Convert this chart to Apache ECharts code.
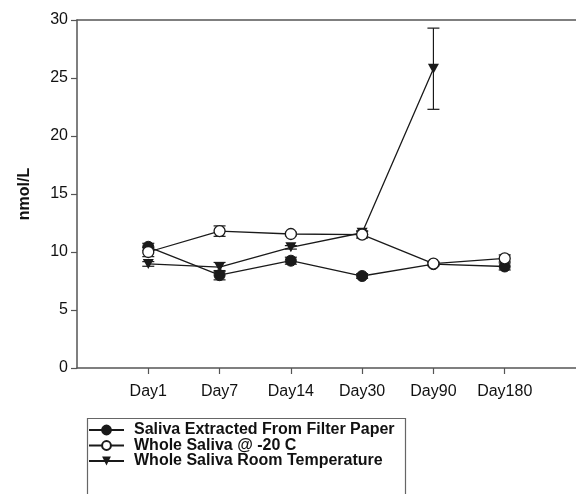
<!DOCTYPE html>
<html>
<head>
<meta charset="utf-8">
<script src="https://cdn.jsdelivr.net/npm/echarts@6/dist/echarts.min.js"></script>
<style>html,body{margin:0;padding:0;background:#fff}#c{width:576px;height:494px}</style>
</head>
<body>
<div id="c"></div>
<script>
var categories = ['Day1', 'Day7', 'Day14', 'Day30', 'Day90', 'Day180'];
var yTicks = [0, 5, 10, 15, 20, 25, 30];

var filterMean = [10.45, 8.0, 9.25, 7.93, 8.95, 8.75];
var filterErr  = [0.3, 0.4, 0.3, 0.2, 0.15, 0.3];

var frozenMean = [10.0, 11.8, 11.55, 11.5, 9.0, 9.45];
var frozenErr  = [0.4, 0.45, 0.15, 0.3, 0.15, 0.3];

var roomMean = [8.97, 8.7, 10.4, 11.66, 25.8, null];
var roomErr  = [0.2, 0.4, 0.15, 0.15, 3.5, null];

var names = ['Saliva Extracted From Filter Paper', 'Whole Saliva @ -20 C', 'Whole Saliva Room Temperature'];

function pts(arr) { return arr.map(function (v, i) { return [i + 1, v == null ? '-' : v]; }); }
function errPts(m, e) {
  var out = [];
  m.forEach(function (v, i) { if (v != null && e[i] != null) out.push([i + 1, v - e[i], v + e[i]]); });
  return out;
}

var INK = '#1a1a1a';
var triPath = 'path://M0,0 L10,0 L5,9 Z';
var FONT = 'Liberation Sans, Arial, sans-serif';

function errSeries(m, e) {
  return {
    type: 'custom',
    silent: true,
    z: 1,
    data: errPts(m, e),
    renderItem: function (params, api) {
      var x = api.value(0);
      var lo = api.coord([x, api.value(1)]);
      var hi = api.coord([x, api.value(2)]);
      var w = 6;
      var st = { stroke: INK, lineWidth: 1.2 };
      return {
        type: 'group',
        children: [
          { type: 'line', shape: { x1: lo[0], y1: lo[1], x2: hi[0], y2: hi[1] }, style: st },
          { type: 'line', shape: { x1: lo[0] - w, y1: lo[1], x2: lo[0] + w, y2: lo[1] }, style: st },
          { type: 'line', shape: { x1: hi[0] - w, y1: hi[1], x2: hi[0] + w, y2: hi[1] }, style: st }
        ]
      };
    }
  };
}

var chart = echarts.init(document.getElementById('c'));
var labelFont = { fontFamily: FONT, fontSize: 16, color: '#111' };

chart.setOption({
  animation: false,
  backgroundColor: '#fff',
  grid: { left: 77, top: 20, width: 501, height: 348 },
  xAxis: [{
    type: 'value', min: 0, max: 7, position: 'bottom',
    splitLine: { show: false },
    axisLine: { show: true, lineStyle: { color: '#555', width: 1.5 } },
    axisTick: { show: true, length: 6, customValues: [1, 2, 3, 4, 5, 6], lineStyle: { color: '#555', width: 1.2 } },
    axisLabel: Object.assign({
      margin: 16,
      customValues: [1, 2, 3, 4, 5, 6],
      formatter: function (v) { return categories[v - 1] || ''; }
    }, labelFont)
  }, {
    type: 'value', min: 0, max: 7, position: 'top',
    splitLine: { show: false },
    axisLine: { show: true, lineStyle: { color: '#555', width: 1.5 } },
    axisTick: { show: false },
    axisLabel: { show: false }
  }],
  yAxis: {
    type: 'value', min: yTicks[0], max: yTicks[yTicks.length - 1], interval: 5,
    splitLine: { show: false },
    axisLine: { show: true, lineStyle: { color: '#555', width: 1.5 } },
    axisTick: { show: true, length: 6, lineStyle: { color: '#555', width: 1.2 } },
    axisLabel: Object.assign({ margin: 9 }, labelFont),
    name: 'nmol/L', nameLocation: 'middle', nameGap: 44, nameRotate: 90,
    nameTextStyle: { fontFamily: FONT, fontSize: 16, fontWeight: 'bold', color: '#111' }
  },
  legend: {
    orient: 'vertical', left: 83, top: 417,
    itemWidth: 35, itemHeight: 11, itemGap: -0.5,
    textStyle: { fontFamily: FONT, fontSize: 16, fontWeight: 'bold', color: '#111', padding: [0, 0, 0, 5] },
    data: names
  },
  graphic: [{
    type: 'rect', left: 85, top: 416, silent: true,
    shape: { width: 318, height: 120 },
    style: { fill: 'none', stroke: '#666', lineWidth: 1.2 }
  }],
  series: [
    errSeries(filterMean, filterErr),
    errSeries(frozenMean, frozenErr),
    errSeries(roomMean, roomErr),
    {
      name: names[0], type: 'line', data: pts(filterMean), z: 3,
      symbol: 'circle', symbolSize: 11,
      lineStyle: { color: INK, width: 1.3 },
      itemStyle: { color: INK, borderColor: INK, borderWidth: 1 }
    },
    {
      name: names[1], type: 'line', data: pts(frozenMean), z: 4,
      symbol: 'circle', symbolSize: 11,
      lineStyle: { color: INK, width: 1.3 },
      itemStyle: { color: '#fff', borderColor: INK, borderWidth: 1.3 }
    },
    {
      name: names[2], type: 'line', data: pts(roomMean), z: 3,
      symbol: triPath, symbolSize: [11, 10],
      lineStyle: { color: INK, width: 1.3 },
      itemStyle: { color: INK, borderColor: INK, borderWidth: 0 }
    }
  ]
});
</script>
</body>
</html>
